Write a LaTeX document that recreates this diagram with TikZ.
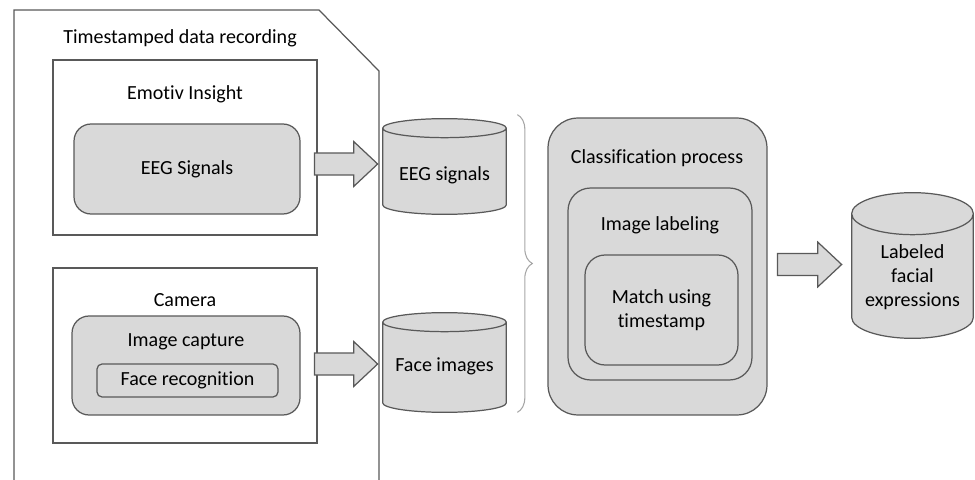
\documentclass[tikz,border=0pt]{standalone}
\usepackage{fontspec}
\setmainfont{Carlito}[Ligatures=NoCommon]
\usetikzlibrary{decorations.pathreplacing,calc}

\definecolor{boxgray}{HTML}{D9D9D9}
\definecolor{edgegray}{HTML}{595959}
\definecolor{bracegray}{HTML}{A6A6A6}

\tikzset{
  panel/.style={draw=edgegray, fill=white, line width=0.7pt},
  procbox/.style={draw=edgegray, fill=boxgray, line width=0.7pt, align=center},
  title/.style={inner sep=0pt, align=center},
  storebox/.style={inner sep=0pt},
  fatarrow/.style={draw=edgegray, fill=boxgray, line width=0.7pt,
    to path={let \p1=(\tikztostart), \p2=(\tikztotarget) in
      (\x1,\y1+0.22cm) -- (\x2-0.48cm,\y1+0.22cm) -- (\x2-0.48cm,\y1+0.45cm) -- (\x2,\y1)
      -- (\x2-0.48cm,\y1-0.45cm) -- (\x2-0.48cm,\y1-0.22cm) -- (\x1,\y1-0.22cm) -- cycle}}
}

% cylinder drawn round a named box: #1 node, #2 y radius of the ends
\newcommand{\drawstore}[2]{%
  \path let \p1=(#1.north west), \p2=(#1.south east), \n1={(\x2-\x1)/2} in
    [draw=edgegray, fill=boxgray, line width=0.7pt]
    (\x1,\y1-#2) -- (\x1,\y2+#2) arc[start angle=180, end angle=360, x radius=\n1, y radius=#2]
    -- (\x2,\y1-#2) arc[start angle=0, end angle=180, x radius=\n1, y radius=#2] -- cycle
    (\x1,\y1-#2) arc[start angle=180, end angle=360, x radius=\n1, y radius=#2];
}

\begin{document}
\begin{tikzpicture}[x=0.02cm, y=-0.02cm, every node/.style={font=\fontsize{11.4}{13.7}\selectfont}]
        \useasboundingbox (0,0) rectangle (975,480);

        % Timestamped data recording
        \draw[panel] (14,490) -- (14,10) -- (319,10) -- (379,71) -- (379,490);
        \node[title] (rectitle) at (180,38) {Timestamped data recording};

        % Emotiv Insight
        \node[panel, minimum width=5.28cm, minimum height=3.5cm] (emotiv) at (185,147.5) {};
        \node[title] (emotivtitle) at (185,94) {Emotiv Insight};
        \node[procbox, rounded corners=0.34cm, minimum width=4.52cm, minimum height=1.8cm] (eegsig) at (187,169) {EEG Signals};

        % Camera
        \node[panel, minimum width=5.28cm, minimum height=3.5cm] (camera) at (185,355.5) {};
        \node[title] (cameratitle) at (185,300) {Camera};
        \node[procbox, rounded corners=0.34cm, minimum width=4.56cm, minimum height=1.98cm] (imgcap) at (186,365.5) {};
        \node[title] (imgcaptitle) at (186,342) {Image capture};
        \node[procbox, rounded corners=0.1cm, minimum width=3.62cm, minimum height=0.66cm] (facerec) at (187.5,380.5) {Face recognition};

        % Data stores
        \node[storebox, minimum width=2.46cm, minimum height=1.9cm] (eegdb) at (444.5,166.5) {};
        \drawstore{eegdb}{0.19cm}
        \node[title] (eegdblabel) at (444.5,175) {EEG signals};
        \node[storebox, minimum width=2.46cm, minimum height=1.98cm] (facedb) at (444.5,362.5) {};
        \drawstore{facedb}{0.19cm}
        \node[title] (facedblabel) at (444.5,366) {Face images};

        % Classification process
        \node[procbox, rounded corners=0.6cm, minimum width=4.38cm, minimum height=5.94cm] (classif) at (657.5,266.5) {};
        \node[title] (classiftitle) at (657,158) {Classification process};
        \node[procbox, rounded corners=0.45cm, minimum width=3.68cm, minimum height=3.84cm] (imglab) at (660,284) {};
        \node[title] (imglabtitle) at (660,225) {Image labeling};
        \node[procbox, rounded corners=0.4cm, minimum width=3.06cm, minimum height=2.2cm] (match) at (661.5,310) {Match using\\timestamp};

        % Result
        \node[storebox, minimum width=2.42cm, minimum height=2.9cm] (labeled) at (912.5,265.5) {};
        \drawstore{labeled}{0.42cm}
        \node[title] (labeledlabel) at (912.5,277) {Labeled\\facial\\expressions};

        % Arrows
        \draw[fatarrow] ($(eegsig.east)+(14,-5)$) to ($(eegdb.west)+(-5,-2)$);
        \draw[fatarrow] ($(imgcap.east)+(14,-1.5)$) to ($(facedb.west)+(-5,0)$);
        \draw[fatarrow] ($(classif.east)+(10,-2)$) to ($(labeled.west)+(-10,0)$);

        % Brace
        \draw[bracegray, line width=0.6pt, decorate, decoration={brace, amplitude=0.3cm}]
          ($(eegdb.north east)+(11,-4)$) -- ($(facedb.south east)+(11,0)$);
\end{tikzpicture}
\end{document}
